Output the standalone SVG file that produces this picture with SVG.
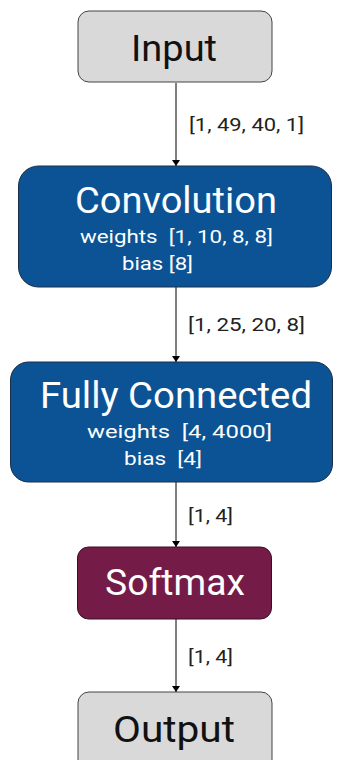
<svg xmlns="http://www.w3.org/2000/svg" width="337" height="760" viewBox="0 0 337 760">
  <defs>
    <marker id="arrow" viewBox="0 0 6 10" refX="6" refY="5" markerWidth="6" markerHeight="10" markerUnits="userSpaceOnUse" orient="auto">
      <path d="M0,1 L6,5 L0,9 Z" fill="#000"/>
    </marker>
    <style>
      .io { fill: #d9d9d9; stroke: #444; stroke-width: 1; }
      .layer { fill: #0b5394; stroke: #1c2e45; stroke-width: 1; }
      .soft { fill: #741b47; stroke: #3a1024; stroke-width: 1; }
      text { font-family: Roboto, "Liberation Sans", sans-serif; }
      .title { font-size: 36px; text-anchor: middle; }
      .dark { fill: #111; }
      .light { fill: #fff; }
      .sub { font-size: 19px; fill: #fff; white-space: pre; }
      .dim { font-size: 18px; fill: #222; }
      .edge { stroke: #000; stroke-width: 1; fill: none; marker-end: url(#arrow); }
    </style>
  </defs>
  <rect width="337" height="760" fill="#fff"/>

  <g id="connectors">
    <line class="edge" x1="176" y1="83" x2="176" y2="166"/>
    <line class="edge" x1="176" y1="287" x2="176" y2="362"/>
    <line class="edge" x1="176" y1="482" x2="176" y2="547"/>
    <line class="edge" x1="176" y1="619" x2="176" y2="692"/>
    <text class="dim" x="189" y="131" textLength="115" lengthAdjust="spacingAndGlyphs">[1, 49, 40, 1]</text>
    <text class="dim" x="188" y="331" textLength="117" lengthAdjust="spacingAndGlyphs">[1, 25, 20, 8]</text>
    <text class="dim" x="188" y="522" textLength="45" lengthAdjust="spacingAndGlyphs">[1, 4]</text>
    <text class="dim" x="188" y="663" textLength="45" lengthAdjust="spacingAndGlyphs">[1, 4]</text>
  </g>

  <g id="input">
    <rect class="io" x="78" y="11" width="194" height="71" rx="11"/>
    <text class="title dark" x="174" y="61" textLength="86" lengthAdjust="spacingAndGlyphs">Input</text>
  </g>

  <g id="convolution">
    <rect class="layer" x="18.5" y="166" width="313" height="121" rx="20"/>
    <text class="title light" x="176" y="213" textLength="202" lengthAdjust="spacingAndGlyphs">Convolution</text>
    <text class="sub" x="80" y="243" textLength="193" lengthAdjust="spacingAndGlyphs">weights  [1, 10, 8, 8]</text>
    <text class="sub" x="122" y="270" textLength="71" lengthAdjust="spacingAndGlyphs">bias [8]</text>
  </g>

  <g id="fully-connected">
    <rect class="layer" x="10.5" y="362" width="322" height="120" rx="18"/>
    <text class="title light" x="176" y="408" textLength="272" lengthAdjust="spacingAndGlyphs">Fully Connected</text>
    <text class="sub" x="87" y="438" textLength="185" lengthAdjust="spacingAndGlyphs">weights  [4, 4000]</text>
    <text class="sub" x="124" y="465" textLength="78" lengthAdjust="spacingAndGlyphs">bias  [4]</text>
  </g>

  <g id="softmax">
    <rect class="soft" x="77.5" y="547" width="194" height="72" rx="11"/>
    <text class="title light" x="175" y="595" font-size="34" textLength="140" lengthAdjust="spacingAndGlyphs">Softmax</text>
  </g>

  <g id="output">
    <rect class="io" x="78" y="692" width="194" height="80" rx="11"/>
    <text class="title dark" x="174" y="742" textLength="122" lengthAdjust="spacingAndGlyphs">Output</text>
  </g>
</svg>
